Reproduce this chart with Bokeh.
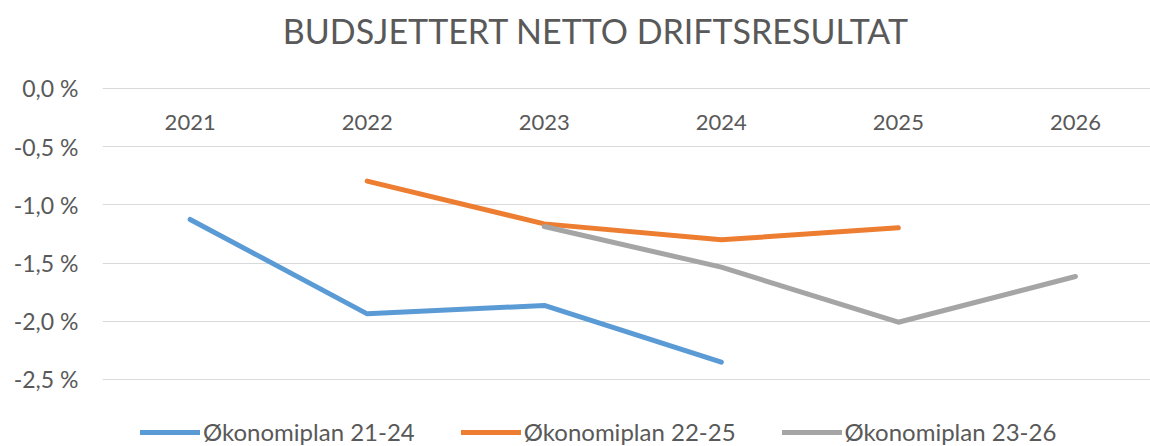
from bokeh.plotting import figure
from bokeh.models import Range1d, FixedTicker, Legend, LegendItem, ColumnDataSource, Label
from bokeh.core.properties import value
from bokeh.embed import file_html
from bokeh.resources import INLINE

title_text = "BUDSJETTERT NETTO DRIFTSRESULTAT"
categories = ["2021", "2022", "2023", "2024", "2025", "2026"]
cat_x = [2021, 2022, 2023, 2024, 2025, 2026]

s1_name = "Økonomiplan 21-24"
s1_x = [2021, 2022, 2023, 2024]
s1_y = [-1.125, -1.936, -1.864, -2.351]

s2_name = "Økonomiplan 22-25"
s2_x = [2022, 2023, 2024, 2025]
s2_y = [-0.796, -1.163, -1.300, -1.197]

s3_name = "Økonomiplan 23-26"
s3_x = [2023, 2024, 2025, 2026]
s3_y = [-1.186, -1.535, -2.008, -1.615]

y_ticks = [0.0, -0.5, -1.0, -1.5, -2.0, -2.5]
y_tick_labels = ["0,0 %", "-0,5 %", "-1,0 %", "-1,5 %", "-2,0 %", "-2,5 %"]

FONT = "Lato"
TXT = "#595959"

p = figure(width=1150, height=446, output_backend="svg", toolbar_location=None,
           x_range=Range1d(2020.505, 2026.424), y_range=Range1d(-3.0756, 0.756),
           x_axis_location=None, min_border_left=102, min_border_right=0,
           min_border_top=0, min_border_bottom=0)
p.outline_line_color = None
p.background_fill_color = "white"
p.border_fill_color = "white"

# chart title
p.add_layout(Label(x=2023.292, y=0.0, y_offset=58, text=title_text,
                   text_font=FONT, text_font_size="34px", text_color=TXT,
                   text_align="center", text_baseline="middle"))

yax = p.yaxis[0]
yax.ticker = FixedTicker(ticks=y_ticks)
yax.major_label_overrides = {t: l for t, l in zip(y_ticks, y_tick_labels)}
yax.axis_line_color = None
yax.major_tick_line_color = None
yax.minor_tick_line_color = None
yax.major_tick_out = 0
yax.major_label_standoff = 24
yax.major_label_text_font = FONT
yax.major_label_text_font_size = "23px"
yax.major_label_text_color = TXT

p.xgrid.visible = False
p.ygrid.ticker = FixedTicker(ticks=y_ticks)
p.ygrid.grid_line_color = "#d9d9d9"
p.ygrid.grid_line_width = 1.2

# category labels under the zero line
src_c = ColumnDataSource(dict(x=cat_x, t=categories, y=[0.0] * len(cat_x)))
p.text(x="x", y="y", text="t", source=src_c, y_offset=34,
       text_font=value(FONT), text_font_size="22px", text_color=TXT,
       text_align="center", text_baseline="middle")

colors = ["#5B9BD5", "#ED7D31", "#A5A5A5"]
rends = []
for xs, ys, c in [(s1_x, s1_y, colors[0]), (s2_x, s2_y, colors[1]), (s3_x, s3_y, colors[2])]:
    r = p.line(xs, ys, line_color=c, line_width=5, line_cap="round", line_join="round")
    rends.append(r)

legend = Legend(items=[LegendItem(label=s1_name, renderers=[rends[0]]),
                       LegendItem(label=s2_name, renderers=[rends[1]]),
                       LegendItem(label=s3_name, renderers=[rends[2]])],
                orientation="horizontal", location=(38, 0),
                label_text_font=FONT, label_text_font_size="24px", label_text_color=TXT,
                glyph_width=60, glyph_height=20, label_standoff=3, spacing=46,
                padding=0, margin=0, border_line_color=None, background_fill_alpha=0)
p.add_layout(legend)

open("out.html", "w").write(file_html(p, INLINE))
